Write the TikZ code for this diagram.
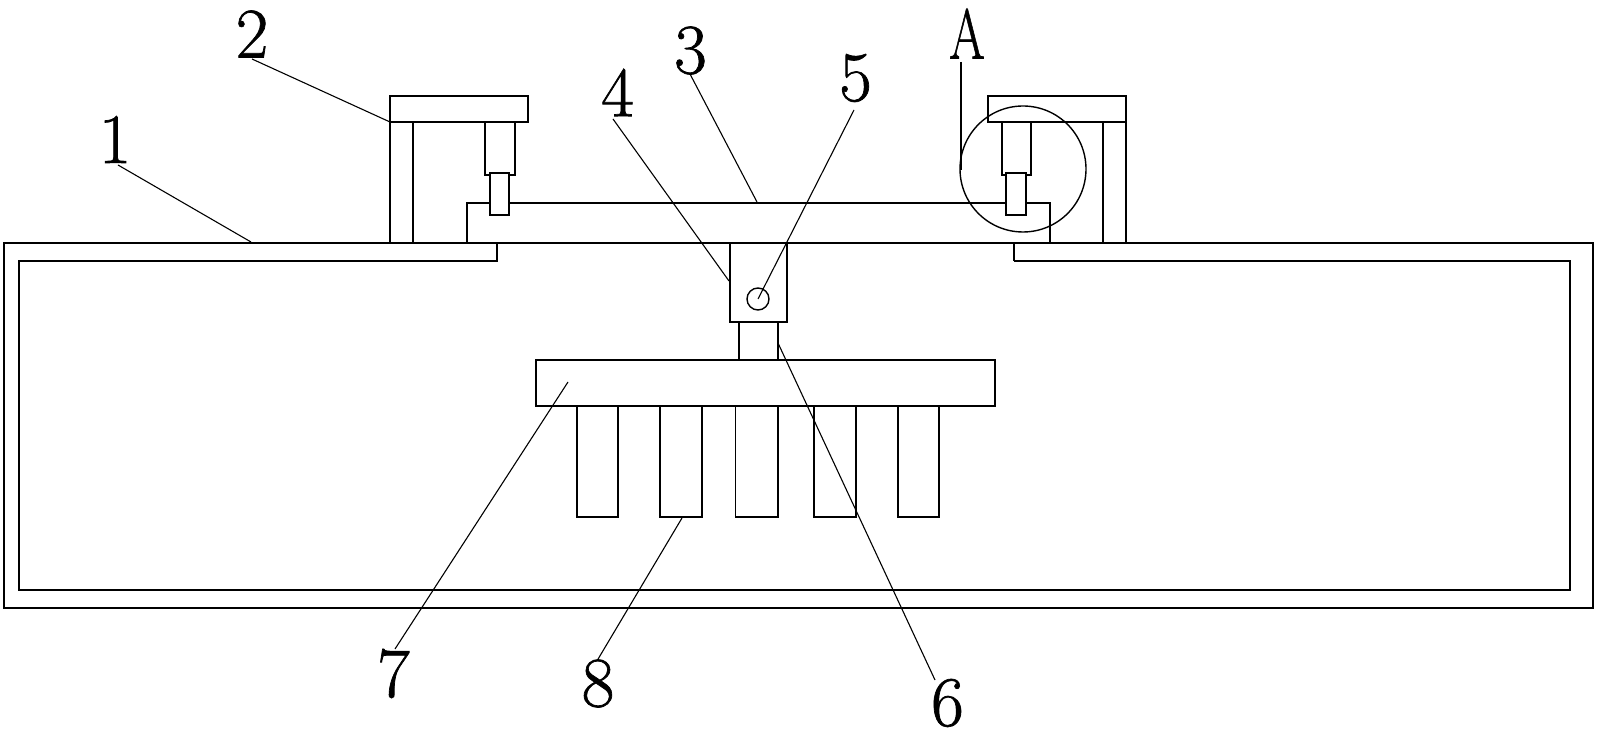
\documentclass[tikz,border=0pt]{standalone}
\usepackage{graphicx}
\usepackage{fontspec}
\newfontfamily\labelfont[FakeBold=1]{Latin Modern Roman}
\tikzset{
  x=0.5pt,y=-0.5pt,
  partline/.style={draw=black,line width=0.95pt,fill=white,line join=miter},
  thinpart/.style={draw=black,line width=0.6pt},
  edgeline/.style={draw=black,line width=0.95pt},
  leaderline/.style={draw=black,line width=0.55pt},
  lab/.style={inner sep=0pt,outer sep=0pt,font=\labelfont\fontsize{35.5}{36}\selectfont,text=black}
}
\newcommand{\glyphnarrow}[2]{\scalebox{#1}[1]{#2}}
\begin{document}
\begin{tikzpicture}
\useasboundingbox (0,0) rectangle (1597,731);
% housing
\draw[partline] (4,243) rectangle (1593,608);
\draw[edgeline] (497,243) -- (497,261) -- (19,261) -- (19,590) -- (1570,590) -- (1570,261) -- (1014,261);
\draw[thinpart] (1014,261) -- (1014,243);
% left support
\draw[partline] (390,122) rectangle (413,243);
\draw[partline] (390,96) rectangle (528,122);
\draw[partline] (485,122) rectangle (515,175);
% right support
\draw[partline] (1103,122) rectangle (1126,243);
\draw[partline] (988,96) rectangle (1126,122);
\draw[partline] (1002,122) rectangle (1031,175);
% beam
\draw[partline] (467,243) -- (467,203) -- (1050,203) -- (1050,243);
\draw[edgeline] (4,243) -- (1593,243);
\draw[partline] (490,173) rectangle (509,215);
\draw[partline] (1006,173) rectangle (1026,215);
% hinge block and neck
\draw[edgeline] (739,322) -- (739,360);
\draw[thinpart] (778,322) -- (778,360);
\draw[partline] (730,243) rectangle (787,322);
\draw[leaderline,line width=0.7pt] (758,299) circle (11);
% plate and teeth
\draw[partline] (577,406) rectangle (618,517);
\draw[partline] (660,406) rectangle (702,517);
\draw[draw=black,line width=0.7pt,fill=white] (735.5,406) rectangle (778,517);
\draw[partline] (814,406) rectangle (856,517);
\draw[partline] (898,406) rectangle (939,517);
\draw[partline] (536,360) rectangle (995,406);
% detail circle
\draw[leaderline,line width=0.7pt] (1023,169) circle (63);
% labels
\node[lab] (n1) at (115,139.5) {1};
\node[lab] (n2) at (252,34) {2};
\node[lab] (n3) at (690.5,50.5) {3};
\node[lab] (n4) at (617.5,92.5) {4};
\node[lab] (n5) at (855.5,78) {5};
\node[lab] (nA) at (967,33.5) {\glyphnarrow{0.72}{A}};
\node[lab] (n6) at (947.5,703) {6};
\node[lab] (n7) at (393.5,673.5) {7};
\node[lab] (n8) at (598,683.5) {8};
% leader ends
\coordinate (a1) at (118,165); \coordinate (b1) at (251,242);
\coordinate (a2) at (252,59);  \coordinate (b2) at (390,122);
\coordinate (a3) at (690,74);  \coordinate (b3) at (757,202);
\coordinate (a4) at (613,119); \coordinate (b4) at (729,281);
\coordinate (a5) at (854,110); \coordinate (b5) at (758,299);
\coordinate (aA) at (961,62);  \coordinate (bA) at (961,170);
\coordinate (a6) at (935,680); \coordinate (b6) at (778,343);
\coordinate (a7) at (395,649); \coordinate (b7) at (568,382);
\coordinate (a8) at (597.5,660); \coordinate (b8) at (682,518);
\foreach \k in {1,2,3,4,5,6,7,8,A} \draw[leaderline] (a\k) -- (b\k);
\end{tikzpicture}
\end{document}
